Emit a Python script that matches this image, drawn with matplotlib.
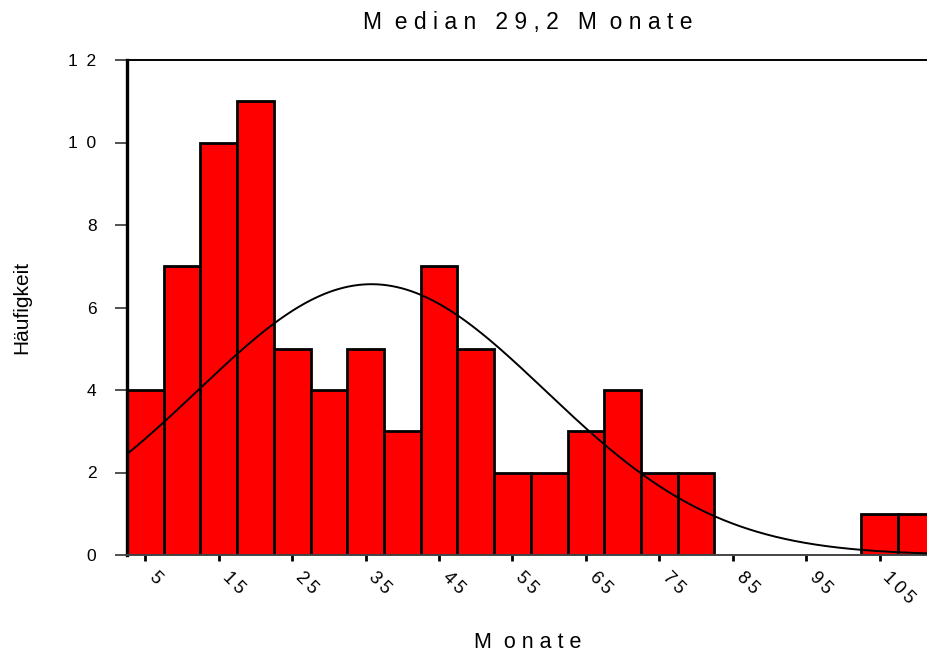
"""Histogram of follow-up months with fitted normal curve (SPSS-style)."""
import numpy as np
import matplotlib.pyplot as plt

# --- data -------------------------------------------------------------------
bin_centers = [5, 10, 15, 20, 25, 30, 35, 40, 45, 50, 55,
               60, 65, 70, 75, 80, 85, 90, 95, 100, 105, 110]
counts = [4, 7, 10, 11, 5, 4, 5, 3, 7, 5, 2,
          2, 3, 4, 2, 2, 0, 0, 0, 0, 1, 1]
bin_width = 5
fit_mean = 35.8   # normal fit over the data
fit_sd = 23.7

x_ticks = [5, 15, 25, 35, 45, 55, 65, 75, 85, 95, 105]
y_ticks = [0, 2, 4, 6, 8, 10, 12]

title = "M  e d i a n   2 9 , 2   M  o n a t e"
x_label = "M  o n a t e"
y_label = "Häufigkeit"

# SPSS letter-spaced labels
THIN = "\u2009"
EN = "\u2002"
x_tick_labels = [THIN.join(str(t)) for t in x_ticks]
y_tick_labels = [EN.join(str(t)) for t in y_ticks]

plt.rcParams["font.family"] = ["Liberation Sans", "DejaVu Sans"]

fig = plt.figure(figsize=(9.28, 6.55), dpi=100)
ax = fig.add_axes([127 / 928, 100 / 655, 801 / 928, 495 / 655])

counts_arr = np.array(counts)
centers_arr = np.array(bin_centers)
keep = counts_arr > 0
ax.bar(centers_arr[keep], counts_arr[keep], width=bin_width, color="#ff0000",
       edgecolor="black", linewidth=2.0, zorder=2)

xs = np.linspace(2.5, 111.6, 500)
n_total = counts_arr.sum()
ys = n_total * bin_width * np.exp(-0.5 * ((xs - fit_mean) / fit_sd) ** 2) / (fit_sd * np.sqrt(2 * np.pi))
ax.plot(xs, ys, color="black", lw=1.4, zorder=3)

ax.set_xlim(2.5, 111.6)
ax.set_ylim(0, 12)
ax.set_xticks(x_ticks)
ax.set_xticklabels(x_tick_labels, rotation=-45, ha="left", va="top",
                   rotation_mode="default", fontsize=13)
ax.set_yticks(y_ticks)
ax.set_yticklabels(y_tick_labels, fontsize=12.5)
ax.tick_params(axis="x", length=4, width=2, pad=6, color="black")
ax.tick_params(axis="y", length=9, width=1.2, pad=13, color="#333333")

ax.spines["right"].set_visible(False)
ax.spines["left"].set_linewidth(2.4)
ax.spines["top"].set_linewidth(1.4)
ax.spines["bottom"].set_linewidth(1.4)
ax.spines["bottom"].set_color("#444444")

ax.text(0.5, 1.076, title, transform=ax.transAxes, ha="center", va="center",
        fontsize=16.5)
ax.set_xlabel(x_label, fontsize=15.5)
ax.xaxis.set_label_coords(0.5, -0.177)
ax.xaxis.label.set_va("center")
ax.set_ylabel(y_label, fontsize=15)
ax.yaxis.set_label_coords(-0.131, 0.5)
ax.yaxis.label.set_va("center")

fig.savefig("out.png", dpi=100)
